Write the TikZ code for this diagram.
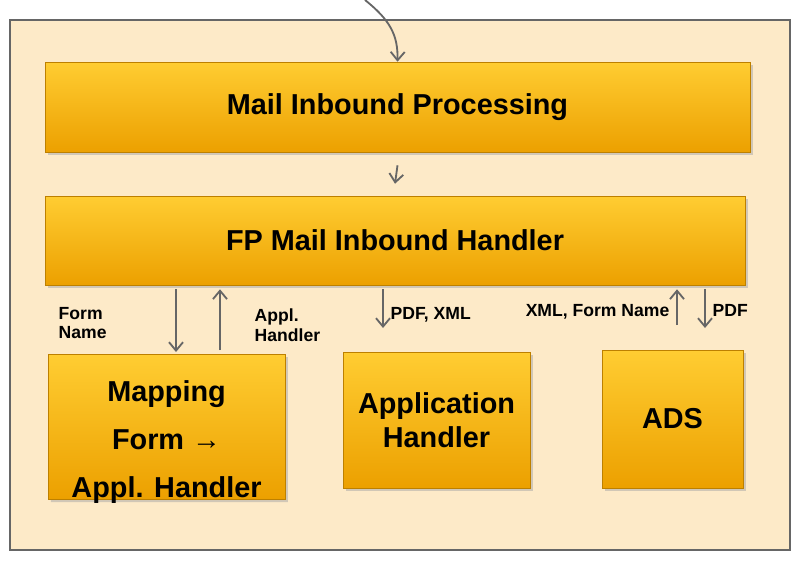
\documentclass[tikz,border=0pt]{standalone}
\usepackage{fontspec}
\setmainfont{Liberation Sans}
\usetikzlibrary{shapes.geometric,shadows,arrows.meta}
\definecolor{panel}{RGB}{253,234,200}
\definecolor{boxtop}{RGB}{255,205,50}
\definecolor{boxbot}{RGB}{236,160,0}
\tikzset{
  block/.style={draw=boxbot!80!black, thin, top color=boxtop, bottom color=boxbot,
    drop shadow={shadow xshift=2pt, shadow yshift=-2pt, fill=black!35},
    font=\bfseries\fontsize{20.5}{24}\selectfont, align=center, inner sep=0pt},
  flow/.style={-{Straight Barb[length=6pt,width=10pt]}, draw=black!60, line width=1.3pt},
  lbl/.style={font=\bfseries\fontsize{12.5}{14}\selectfont, align=left, inner sep=1pt}
}
\begin{document}
\begin{tikzpicture}[x=0.025cm, y=-0.025cm]
  \useasboundingbox (0,0) rectangle (799,566);
  \draw[fill=panel, draw=black!60, thick] (10,20) rectangle (790,550);
  % main layers
  \node[block, minimum width=705*0.025cm, minimum height=90*0.025cm] (mip) at (397.5,107) {Mail Inbound Processing};
  \node[block, minimum width=700*0.025cm, minimum height=89*0.025cm] (fp) at (395,240.5) {FP Mail Inbound Handler};
  % lower components
  \node[block, cylinder, shape border rotate=90, aspect=0.25,
    minimum width=237*0.025cm, minimum height=145*0.025cm] (map) at (166.5,427) {};
  \node[font=\bfseries\fontsize{20.5}{34}\selectfont, align=center] (maptxt) at (166.5,442) {Mapping\\Form →\\Appl. Handler};
  \node[block, minimum width=187*0.025cm, minimum height=136*0.025cm] (app) at (436.5,420) {Application\\Handler};
  \node[block, minimum width=141*0.025cm, minimum height=138*0.025cm] (ads) at (672.5,419) {ADS};
  % connectors
  \coordinate (in) at (365,0);
  \draw[flow] (in) .. controls (390,20) and (398,35) .. (mip.north);
  \draw[flow] ([yshift=-13*0.025cm]mip.south) -- ([yshift=12*0.025cm]fp.north);
  \draw[flow] ([yshift=-4*0.025cm]fp.south -| 176,0) -- (176,352);
  \draw[flow] (220,350) -- ([yshift=-4*0.025cm]fp.south -| 220,0);
  \draw[flow] ([yshift=-4*0.025cm]fp.south -| 383,0) -- (383,328);
  \draw[flow] (677,325) -- ([yshift=-4*0.025cm]fp.south -| 677,0);
  \draw[flow] ([yshift=-4*0.025cm]fp.south -| 705,0) -- (705,328);
  % labels
  \node[lbl, anchor=west] (lform) at (57,323) {Form\\Name};
  \node[lbl, anchor=west] (lappl) at (253,325) {Appl.\\Handler};
  \node[lbl, anchor=west] (lpdf) at (389,315) {PDF, XML};
  \node[lbl, anchor=east] (lxml) at (671,312) {XML, Form Name};
  \node[lbl, anchor=west] (lpdf2) at (711,310) {PDF};
\end{tikzpicture}
\end{document}
